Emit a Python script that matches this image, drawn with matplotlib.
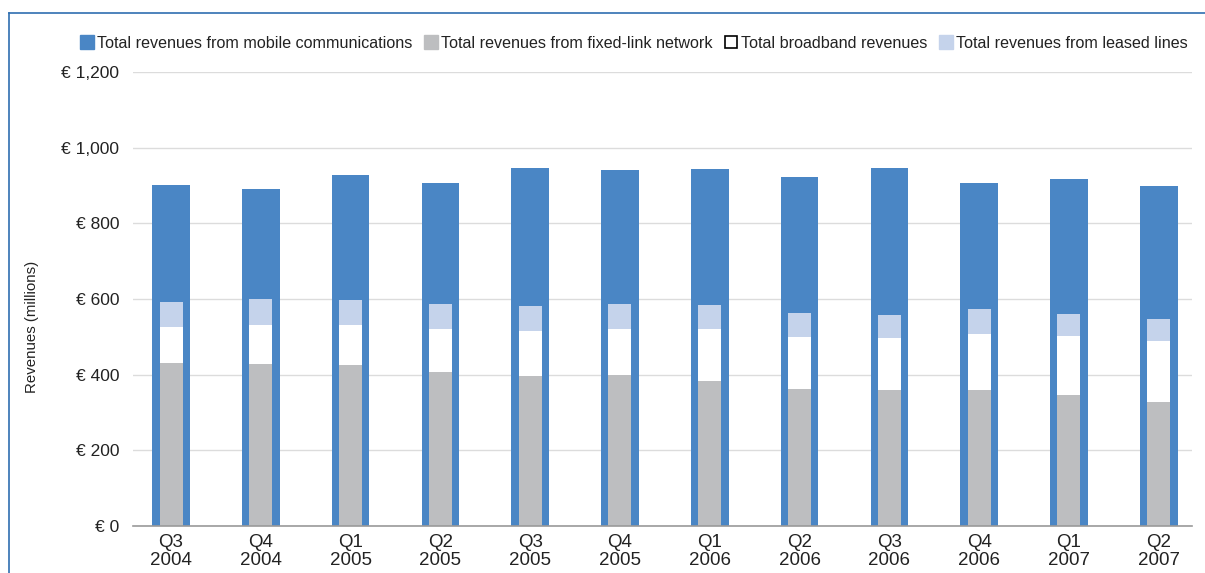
import matplotlib.pyplot as plt
from matplotlib.lines import Line2D

plt.rcParams['font.family'] = ['Liberation Sans', 'DejaVu Sans']

quarters = ['Q3\n2004', 'Q4\n2004', 'Q1\n2005', 'Q2\n2005', 'Q3\n2005', 'Q4\n2005',
            'Q1\n2006', 'Q2\n2006', 'Q3\n2006', 'Q4\n2006', 'Q1\n2007', 'Q2\n2007']
mobile = [901, 891, 928, 907, 946, 941, 944, 922, 946, 907, 917, 899]
fixed_link = [431, 428, 426, 407, 397, 399, 383, 362, 360, 360, 346, 328]
broadband = [95, 103, 105, 114, 118, 122, 138, 138, 137, 147, 156, 161]
leased = [66, 69, 66, 66, 67, 66, 63, 63, 61, 67, 58, 58]
y_labels = ['€ 0', '€ 200', '€ 400', '€ 600', '€ 800', '€ 1,000', '€ 1,200']

blue = '#4a86c5'
grey = '#bdbec0'
light_blue = '#c5d3eb'
text_col = '#222222'

fig = plt.figure(figsize=(12.05, 5.73), dpi=100)
ax = fig.add_axes([0.1104, 0.082, 0.8788, 0.792])

x = list(range(len(quarters)))
bb_bottom = fixed_link
ll_bottom = [f + b for f, b in zip(fixed_link, broadband)]

b_mob = ax.bar(x, mobile, width=0.42, color=blue, zorder=2,
               label='Total revenues from mobile communications')
b_fix = ax.bar(x, fixed_link, width=0.256, color=grey, zorder=3,
               label='Total revenues from fixed-link network')
b_bb = ax.bar(x, broadband, width=0.256, bottom=bb_bottom, color='white', zorder=3,
              label='Total broadband revenues')
b_ll = ax.bar(x, leased, width=0.256, bottom=ll_bottom, color=light_blue, zorder=3,
              label='Total revenues from leased lines')

ax.set_xlim(-0.423, 11.37)
ax.set_ylim(0, 1200)
ax.set_yticks(range(0, 1201, 200))
ax.set_yticklabels(y_labels, fontsize=12.5)
ax.set_xticks(x)
ax.set_xticklabels(quarters, linespacing=1.08, fontsize=13.5)
ax.tick_params(axis='both', length=0, colors=text_col)
ax.tick_params(axis='y', pad=10)
ax.tick_params(axis='x', pad=6)
ax.grid(axis='y', color='#dcdcdc', linewidth=1, zorder=0)
ax.set_axisbelow(True)
for side in ['top', 'right', 'left']:
    ax.spines[side].set_visible(False)
ax.spines['bottom'].set_color('#9a9a9a')
ax.spines['bottom'].set_linewidth(1.2)
ax.spines['bottom'].set_zorder(4)

fig.text(32 / 1205, 1 - 327 / 573, 'Revenues (millions)', rotation=90,
         ha='center', va='center', fontsize=10.8, color=text_col)

handles = [
    Line2D([], [], marker='s', linestyle='', markersize=10, markerfacecolor=blue, markeredgecolor=blue),
    Line2D([], [], marker='s', linestyle='', markersize=10, markerfacecolor=grey, markeredgecolor=grey),
    Line2D([], [], marker='s', linestyle='', markersize=8.5, markerfacecolor='white', markeredgecolor='black', markeredgewidth=1.2),
    Line2D([], [], marker='s', linestyle='', markersize=10, markerfacecolor=light_blue, markeredgecolor=light_blue),
]
labels = [b.get_label() for b in (b_mob, b_fix, b_bb, b_ll)]
fig.legend(handles, labels, ncol=4, loc='center left', bbox_to_anchor=(74 / 1205, 1 - 43 / 573),
           frameon=False, fontsize=11.6, handlelength=0.8, handletextpad=0.25,
           columnspacing=0.72, labelcolor=text_col, borderaxespad=0)

# thin frame at top and left edge
frame_col = '#2f6eb0'
fig.add_artist(Line2D([9 / 1205, 9 / 1205], [0, 1 - 13 / 573], color=frame_col, linewidth=1.2,
                      transform=fig.transFigure))
fig.add_artist(Line2D([9 / 1205, 1], [1 - 13 / 573, 1 - 13 / 573], color=frame_col, linewidth=1.2,
                      transform=fig.transFigure))

fig.savefig('out.png', dpi=100)
